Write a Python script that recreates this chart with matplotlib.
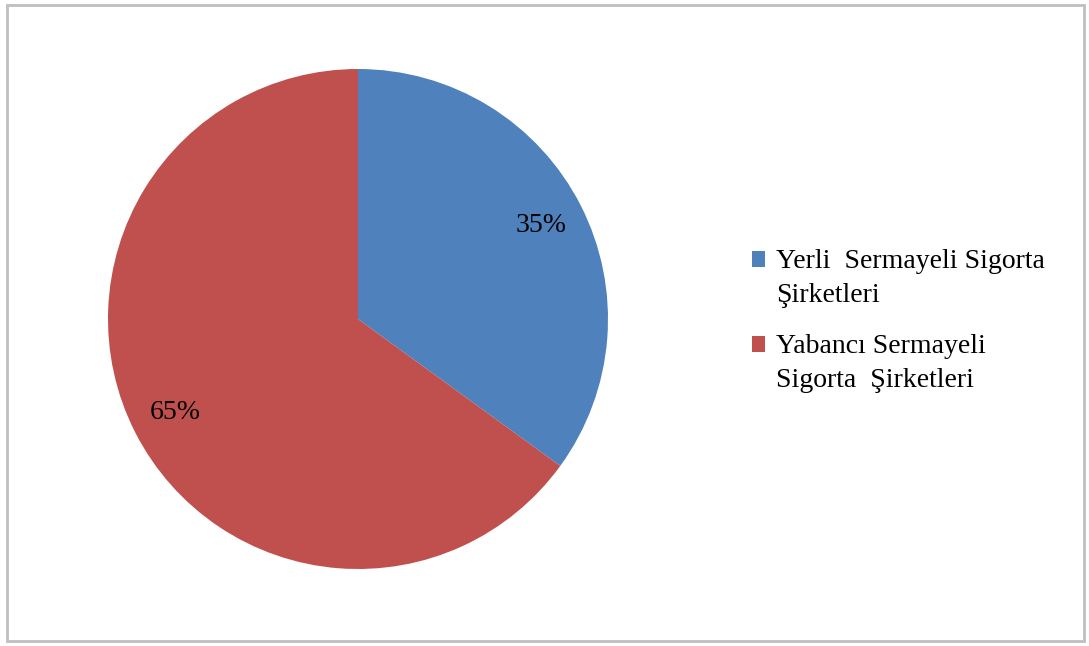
import matplotlib.pyplot as plt
from matplotlib.patches import Rectangle

# pay dağılımı
labels = ['Yerli  Sermayeli Sigorta\nŞirketleri', 'Yabancı Sermayeli\nSigorta  Şirketleri']
values = [35, 65]
colors = ['#4f81bd', '#c0504d']

plt.rcParams['font.family'] = ['Liberation Serif', 'DejaVu Serif']

W, H = 1089, 646
fig = plt.figure(figsize=(W / 100, H / 100), dpi=100)

# dış çerçeve
fig.patches.append(Rectangle((7 / W, 5 / H), 1077 / W, 636 / H,
                             transform=fig.transFigure, fill=False,
                             edgecolor='#bfbfbf', linewidth=2))

cx, cy, r = 358, 319, 250
ax = fig.add_axes([(cx - r) / W, (H - cy - r) / H, 2 * r / W, 2 * r / H])
wedges, texts, autotexts = ax.pie(values, colors=colors, startangle=90, counterclock=False,
                                  autopct='%d%%', pctdistance=0.82,
                                  textprops={'fontsize': 20, 'color': 'black'},
                                  wedgeprops={'linewidth': 0})
ax.set_xlim(-1, 1)
ax.set_ylim(-1, 1)
ax.set_aspect('equal')

# gösterge: kare işaret ilk satırla hizalı
baselines = [268, 353]
line_gap = 34
for lab, col, y0 in zip(labels, colors, baselines):
    fig.patches.append(Rectangle((752 / W, 1 - (y0 - 1) / H), 13 / W, 16 / H,
                                 transform=fig.transFigure, facecolor=col, edgecolor='none'))
    for i, line in enumerate(lab.split('\n')):
        fig.text(776 / W, 1 - (y0 + i * line_gap) / H, line, fontsize=20,
                 va='baseline', ha='left')

fig.savefig('out.png', dpi=100)
